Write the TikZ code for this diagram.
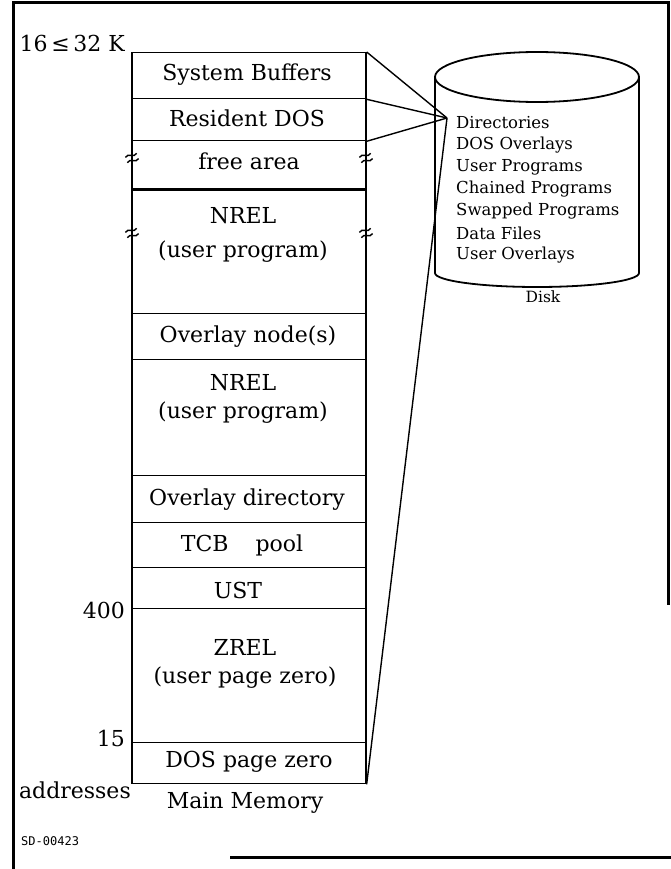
\documentclass[tikz,border=0pt]{standalone}
\usepackage{fontspec}
\setmainfont{DejaVu Serif}
\newfontfamily\codefont{DejaVu Sans Mono}
\tikzset{
  cell/.style={draw, line width=1.3pt, minimum width=234pt, inner sep=0pt, anchor=north},
  lbl/.style={font=\fontsize{22}{25}\selectfont, inner sep=0pt, align=center},
  addr/.style={font=\fontsize{22}{25}\selectfont, inner sep=0pt, anchor=east},
  disktxt/.style={font=\fontsize{16.5}{20}\selectfont, inner sep=0pt, anchor=west},
  link/.style={line width=1.4pt},
  diskline/.style={line width=1.8pt},
  frame/.style={line width=3pt},
  brk/.pic={
    \draw[line width=1.4pt, rotate=20]
      (-6,-2.8) .. controls (-2,-6.8) and (2,1.2) .. (6,-2.8)
      (-6, 2.8) .. controls (-2,-1.2) and (2,6.8) .. (6, 2.8);
  }
}
\begin{document}
\begin{tikzpicture}[x=1pt, y=-1pt]
\useasboundingbox (0,0) rectangle (671,869);

% outer frame
\draw[frame] (13,869) -- (13,3) -- (668,3) -- (668,605);
\draw[frame] (230,857) -- (671,857);

% main memory column
\node[cell, minimum height=46pt]  (sb)  at (249,52)  {};
\node[cell, minimum height=42pt]  (rd)  at (249,98)  {};
\node[cell, minimum height=48pt]  (fa)  at (249,140) {};
\node[cell, minimum height=125pt] (nr1) at (249,188) {};
\node[cell, minimum height=46pt]  (ovn) at (249,313) {};
\node[cell, minimum height=116pt] (nr2) at (249,359) {};
\node[cell, minimum height=47pt]  (ovd) at (249,475) {};
\node[cell, minimum height=45pt]  (tcb) at (249,522) {};
\node[cell, minimum height=41pt]  (ust) at (249,567) {};
\node[cell, minimum height=134pt] (zr)  at (249,608) {};
\node[cell, minimum height=41pt]  (dz)  at (249,742) {};
\draw[line width=2.4pt] (fa.south west) -- (fa.south east);

% break marks on the column walls
\pic at (132,158) {brk};
\pic at (366,158) {brk};
\pic at (132,233) {brk};
\pic at (366,233) {brk};

% cell texts
\node[lbl] (tsb)  at (247,75)  {System Buffers};
\node[lbl] (trd)  at (247,118) {Resident DOS};
\node[lbl] (tfa)  at (249,161) {free area};
\node[lbl, font=\fontsize{22}{34}\selectfont] (tnr1) at (243,235) {NREL\\(user program)};
\node[lbl] (tovn) at (248,337) {Overlay node(s)};
\node[lbl, font=\fontsize{22}{28}\selectfont] (tnr2) at (243,399) {NREL\\(user program)};
\node[lbl] (tovd) at (247,500) {Overlay directory};
\node[lbl] (ttcb) at (242,545) {TCB\hspace{27pt}pool};
\node[lbl] (tust) at (238,590) {UST};
\node[lbl, font=\fontsize{22}{28}\selectfont] (tzr) at (245,664) {ZREL\\(user page zero)};
\node[lbl] (tdz)  at (249,762) {DOS page zero};

% address labels
\node[addr] (top) at (125,43) {16\,≤\,32 K};
\node[addr] (a400) at (125,610) {400};
\node[addr] (a15)  at (125,738) {15};
\node[addr] (aadr) at (131,790) {addresses};
\node[lbl] (mm) at (245,803) {Main Memory};

% disk
\draw[diskline] (537,77) ellipse [x radius=102pt, y radius=25pt];
\draw[diskline] (435,77) -- (435,273)
  arc[start angle=180, end angle=360, x radius=102pt, y radius=14pt]
  -- (639,77);
\coordinate (hub) at (447,118);
\node[disktxt] (d1) at (456,123) {Directories};
\node[disktxt] (d2) at (456,145) {DOS Overlays};
\node[disktxt] (d3) at (456,167) {User Programs};
\node[disktxt] (d4) at (456,189) {Chained Programs};
\node[disktxt] (d5) at (456,211) {Swapped Programs};
\node[disktxt] (d6) at (456,233) {Data Files};
\node[disktxt] (d7) at (456,255) {User Overlays};
\node[lbl, font=\fontsize{15.5}{18}\selectfont] (disk) at (543,297) {Disk};

% links from memory to disk
\draw[link] (sb.north east) -- (hub);
\draw[link] (sb.south east) -- (hub);
\draw[link] (rd.south east) -- (hub);
\draw[link] (dz.south east) -- (hub);

% drawing number
\node[font=\codefont\fontsize{12}{14}\selectfont, inner sep=0pt, anchor=west] (sd) at (21,841) {SD-00423};
\end{tikzpicture}
\end{document}
